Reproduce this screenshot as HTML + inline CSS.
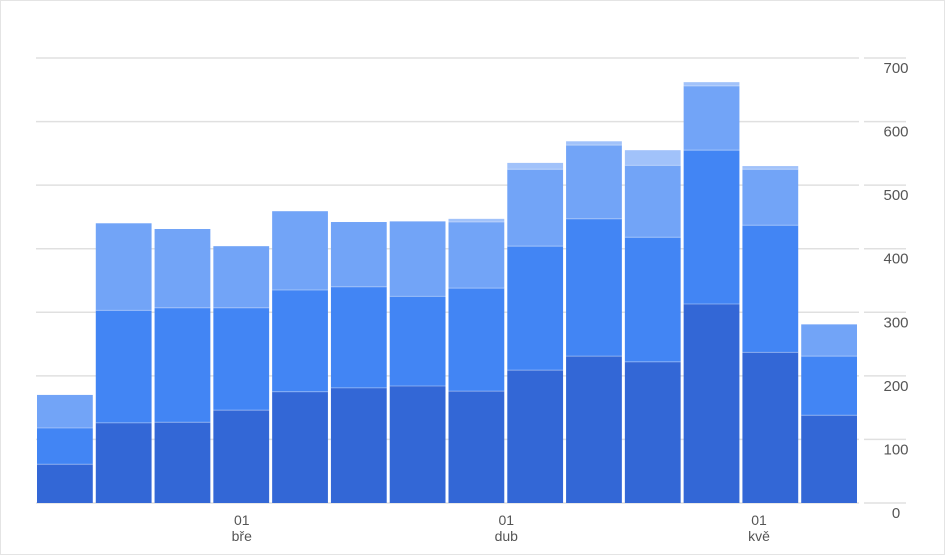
<!DOCTYPE html>
<html><head><meta charset="utf-8"><style>
html,body{margin:0;padding:0;background:#fff;}
body{width:945px;height:555px;overflow:hidden;font-family:"Liberation Sans",sans-serif;}
.frame{position:absolute;left:0;top:0;width:943px;height:553px;border:1px solid #e4e4e4;}
</style></head><body>
<div class="frame"></div>
<svg id="chart" width="945" height="555" style="position:absolute;left:0;top:0"></svg>
<script>
const categories=["w1","w2","w3","w4","w5","w6","w7","w8","w9","w10","w11","w12","w13","w14"];
const series1=[61,126,127,146,175,181,184,176,209,231,222,313,237,138];
const series2=[57,177,180,161,160,159,141,162,195,216,196,242,200,93];
const series3=[52,137,124,97,124,102,118,104,121,116,113,101,88,50];
const series4=[0,0,0,0,0,0,0,5,10,6,24,6,5,0];
const yTicks=[0,100,200,300,400,500,600,700];
const xLabels=[{i:3.5,t:["01","bře"]},{i:8,t:["01","dub"]},{i:12.3,t:["01","kvě"]}];
const colors=["#3367d6","#4285f4","#72a4f7","#a1c2fa"];
const svg=document.getElementById('chart');
const NS='http://www.w3.org/2000/svg';
const x0=36,x1=859,yBase=503,yTop=58,vMax=700;
const y=v=>yBase-(v/vMax)*(yBase-yTop);
const pitch=(x1-x0)/categories.length;
const xAt=i=>x0+i*pitch;
function mk(tag,attrs){const e=document.createElementNS(NS,tag);for(const k in attrs)e.setAttribute(k,attrs[k]);svg.appendChild(e);return e;}
yTicks.forEach(v=>{
  const l=mk('line',{x1:x0,x2:x1,y1:y(v),y2:y(v),stroke:'#e0e0e0','stroke-width':v===0?1.5:1.5});
  
  
  const s=mk('line',{x1:864,x2:906,y1:y(v),y2:y(v),stroke:'#e0e0e0','stroke-width':1.5});
  
  
  const t=mk('text',{x:896,y:y(v)+15,'text-anchor':'middle','font-size':15,fill:'#555'});
  t.textContent=v;
  
  
});
const all=[series1,series2,series3,series4];
categories.forEach((c,i)=>{
  let acc=0;
  all.forEach((s,k)=>{
    const v=s[i]; if(!v) return;
    const r=mk('rect',{x:xAt(i)+1,width:pitch-3,y:y(acc+v),height:y(acc)-y(acc+v),fill:colors[k]});
    
    
    if(acc>0){const ln=mk('line',{x1:xAt(i)+1,x2:xAt(i)+pitch-2,y1:y(acc),y2:y(acc),stroke:'#ffffff','stroke-opacity':0.35,'stroke-width':1});
      
      }
    acc+=v;
  });
});
xLabels.forEach(l=>{
  const cx=xAt(l.i)+pitch/2-29;
  l.t.forEach((s,j)=>{
    const t=mk('text',{x:xAt(l.i),y:525+j*16,'text-anchor':'middle','font-size':14,fill:'#555'});
    t.textContent=s;
    
    
  });
});
</script>
</body></html>
